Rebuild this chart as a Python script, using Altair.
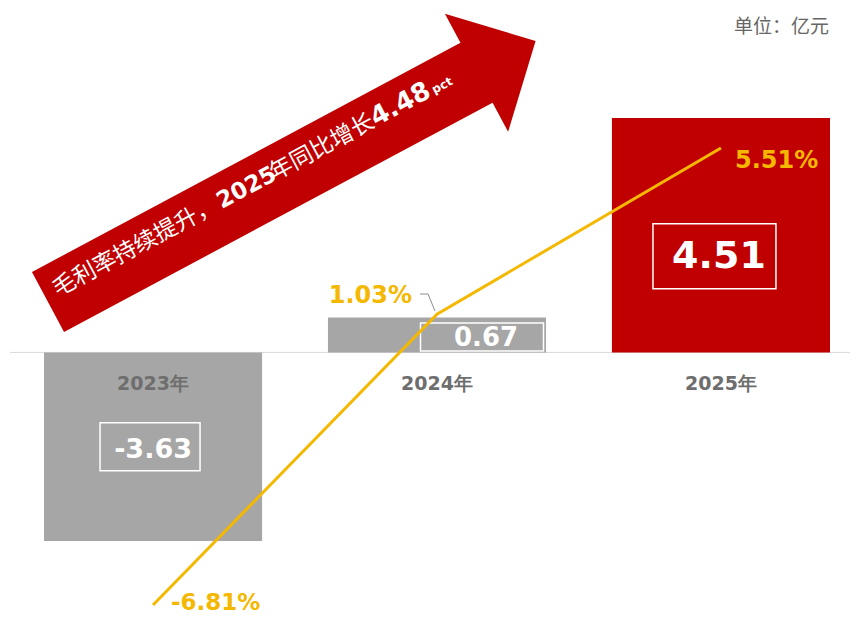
import math
import altair as alt
import pandas as pd

# ---------------- data ----------------
years = ["2023年", "2024年", "2025年"]
profit = [-3.63, 0.67, 4.51]            # 亿元 (bars)
margin = [-6.81, 1.03, 5.51]            # 毛利率 % (line)
profit_labels = ["-3.63", "0.67", "4.51"]
margin_labels = ["-6.81%", "1.03%", "5.51%"]
unit_text = "单位：亿元"
arrow_parts = ["毛利率持续提升，", "2025", "年同比增长", "4.48", "pct"]

df = pd.DataFrame({
    "year": years,
    "profit": profit,
    "margin": margin,
    "plabel": profit_labels,
    "mlabel": margin_labels,
})

W, H = 842, 609
GRAY = "#A6A6A6"
RED = "#C00000"
GOLD = "#F5B800"
NUM_FONT = "DejaVu Sans"
CJK_FONT = "Noto Sans CJK SC"

X = alt.X("year:N", sort=years,
          scale=alt.Scale(domain=years, range=[36, 822], paddingInner=0.232, paddingOuter=0),
          axis=None)
YB = alt.Scale(domain=[-5.091, 6.627], nice=False, zero=False)
YM = alt.Scale(domain=[-7.134, 9.284], nice=False, zero=False)

layers = []

# zero line
layers.append(
    alt.Chart(pd.DataFrame({"z": [0]})).mark_rule(color="#D9D9D9", strokeWidth=1).encode(
        y=alt.Y("z:Q", scale=YB, axis=None), x=alt.value(2), x2=alt.value(850))
)

# bars
layers.append(
    alt.Chart(df).transform_calculate(zero="0").mark_bar().encode(
        x=X,
        y=alt.Y("profit:Q", scale=YB, axis=None),
        y2="zero:Q",
        color=alt.Color("year:N", scale=alt.Scale(domain=years, range=[GRAY, GRAY, RED]), legend=None),
    )
)

# white framed value boxes + value labels
box_specs = [  # (index, box w, box h, xOffset, yOffset, font size, text dx, text dy)
    (0, 100, 48, -3, 0, 27, 0, 3),
    (1, 123, 28, 45, 2, 26, 49, 3),
    (2, 123, 65, -6.5, 21, 38, -2, 22),
]
for i, w, h, xo, yo, fs, tdx, tdy in box_specs:
    r = h / w
    path = f"M-1,{-r:.4f}L1,{-r:.4f}L1,{r:.4f}L-1,{r:.4f}Z"
    sub = alt.Chart(df).transform_filter(alt.datum.year == years[i]).transform_calculate(
        mid="datum.profit / 2")
    layers.append(
        sub.mark_point(shape=path, size=w * w, filled=False, color="white", strokeWidth=1.5,
                       opacity=1, xOffset=xo, yOffset=yo).encode(
            x=X, y=alt.Y("mid:Q", scale=YB, axis=None))
    )
    layers.append(
        sub.mark_text(font=NUM_FONT, fontWeight="bold", fontSize=fs, color="white",
                      align="center", baseline="middle", dx=tdx, dy=tdy).encode(
            x=X, y=alt.Y("mid:Q", scale=YB, axis=None), text="plabel:N")
    )

# category labels just below the zero line
layers.append(
    alt.Chart(df).transform_calculate(zero="0").mark_text(
        font=NUM_FONT, fontWeight="bold", fontSize=19, color="#6E6E6E",
        align="center", baseline="middle", dy=32).encode(
        x=X, y=alt.Y("zero:Q", scale=YB, axis=None), text="year:N")
)

# margin line
layers.append(
    alt.Chart(df).mark_line(color=GOLD, strokeWidth=3).encode(
        x=X, y=alt.Y("margin:Q", scale=YM, axis=None))
)

# small leader for the 2024 margin label (decoration)
for (x1, y1, x2, y2) in [(412, 286, 420, 286), (420, 286, 427, 303)]:
    layers.append(
        alt.Chart(pd.DataFrame({"k": [0]})).mark_rule(color="#8C8C8C", strokeWidth=1).encode(
            x=alt.value(x1), y=alt.value(y1), x2=alt.value(x2), y2=alt.value(y2))
    )

# margin labels
mlabel_specs = [(0, "left", 18, -2, 23), (1, "right", -25, -18, 24), (2, "left", 14, 13, 24)]
for i, al, dx, dy, fs in mlabel_specs:
    layers.append(
        alt.Chart(df).transform_filter(alt.datum.year == years[i]).mark_text(
            font=NUM_FONT, fontWeight="bold", fontSize=fs, color=GOLD,
            align=al, baseline="middle", dx=dx, dy=dy).encode(
            x=X, y=alt.Y("margin:Q", scale=YM, axis=None), text="mlabel:N")
    )

# big red arrow (decoration)
ANG = 28.15
L2 = 276.5                 # half length of arrow in px
head_u = 486 / L2 - 1
body_v = 34 / L2
head_v = 67 / L2
arrow_path = (f"M-1,{-body_v:.4f}L{head_u:.4f},{-body_v:.4f}L{head_u:.4f},{-head_v:.4f}"
              f"L1,0L{head_u:.4f},{head_v:.4f}L{head_u:.4f},{body_v:.4f}L-1,{body_v:.4f}Z")
tail = (40.0, 294.0)
ca, sa = math.cos(math.radians(ANG)), math.sin(math.radians(ANG))


def pos(along, perp):
    return (tail[0] + along * ca + perp * sa, tail[1] - along * sa + perp * ca)


cx, cy = pos(L2, 0)
layers.append(
    alt.Chart(pd.DataFrame({"k": [0]})).mark_point(
        shape=arrow_path, size=4 * L2 * L2, filled=True, color=RED, opacity=1,
        strokeWidth=0, angle=360 - ANG).encode(x=alt.value(cx), y=alt.value(cy))
)

piece_specs = [  # along start, perp, font, weight, size
    (11, -7, CJK_FONT, "normal", 23),
    (197, -7, NUM_FONT, "bold", 23),
    (257, -7, CJK_FONT, "normal", 23),
    (372, -8, NUM_FONT, "bold", 26),
    (439, -5, NUM_FONT, "bold", 12),
]
for txt, (al, pp, fnt, fw, fs) in zip(arrow_parts, piece_specs):
    px, py = pos(al, pp)
    layers.append(
        alt.Chart(pd.DataFrame({"t": [txt]})).mark_text(
            font=fnt, fontWeight=fw, fontSize=fs, color="white", align="left",
            baseline="middle", angle=360 - ANG).encode(
            x=alt.value(px), y=alt.value(py), text="t:N")
    )

# unit text
layers.append(
    alt.Chart(pd.DataFrame({"t": [unit_text]})).mark_text(
        font=CJK_FONT, fontSize=19, color="#666666", align="right", baseline="middle").encode(
        x=alt.value(821), y=alt.value(19), text="t:N")
)

chart = alt.layer(*layers).resolve_scale(y="independent").properties(
    width=W, height=H, padding=0,
    autosize=alt.AutoSizeParams(type="none"),
).configure_view(stroke=None)

chart.save("out.html", embed_options={"renderer": "svg", "actions": False})
